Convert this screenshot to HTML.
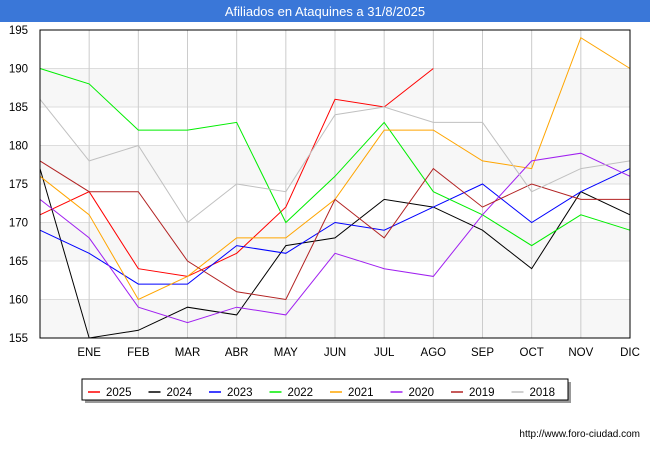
<!DOCTYPE html>
<html><head><meta charset="utf-8"><style>
body{margin:0;width:650px;height:450px;background:#fff;font-family:"Liberation Sans",sans-serif;overflow:hidden}
</style></head><body>
<svg width="650" height="450" xmlns="http://www.w3.org/2000/svg" id="chart">
<rect x="0" y="0" width="650" height="22" fill="#3a77d8"/>
<text x="325" y="16" text-anchor="middle" fill="#fff" font-size="13">Afiliados en Ataquines a 31/8/2025</text>
<g id="bands"></g><g id="grid"></g><g id="lines"></g>
<rect x="40" y="30" width="590" height="308" fill="none" stroke="#000" stroke-width="1"/>
<g id="yt"></g><g id="xt"></g>
<rect x="85" y="382" width="486" height="21" fill="#999"/>
<rect x="82" y="379" width="486" height="21" fill="#fff" stroke="#000"/>
<g id="legend"></g>
<text x="640" y="437" text-anchor="end" font-size="10" fill="#000">http://www.foro-ciudad.com</text>
</svg>
<script>
const months=["","ENE","FEB","MAR","ABR","MAY","JUN","JUL","AGO","SEP","OCT","NOV","DIC"];
const yTicks=[155,160,165,170,175,180,185,190,195];
const seriesNames=["2025","2024","2023","2022","2021","2020","2019","2018"];
const seriesColors=["#ff0000","#000000","#0000ff","#00ee00","#ffa500","#a020f0","#b22222","#c0c0c0"];
const s2025=[171,174,164,163,166,172,186,185,190];
const s2024=[177,155,156,159,158,167,168,173,172,169,164,174,171];
const s2023=[169,166,162,162,167,166,170,169,172,175,170,174,177];
const s2022=[190,188,182,182,183,170,176,183,174,171,167,171,169];
const s2021=[176,171,160,163,168,168,173,182,182,178,177,194,190];
const s2020=[173,168,159,157,159,158,166,164,163,171,178,179,176];
const s2019=[178,174,174,165,161,160,173,168,177,172,175,173,173];
const s2018=[186,178,180,170,175,174,184,185,183,183,174,177,178];
const allSeries=[s2025,s2024,s2023,s2022,s2021,s2020,s2019,s2018];
const NS="http://www.w3.org/2000/svg";
const X=i=>40+i*590/12, Y=v=>338-(v-155)*308/40;
function mk(t,a,p){const e=document.createElementNS(NS,t);for(const k in a)e.setAttribute(k,a[k]);document.getElementById(p).appendChild(e);return e;}
for(let v=155;v<195;v+=10){const r=mk("rect",{x:40,y:Y(v+5),width:590,height:Y(v)-Y(v+5),fill:"#f7f7f7"},"bands");

}
yTicks.forEach(v=>{const l=mk("line",{x1:40,x2:630,y1:Y(v),y2:Y(v),stroke:"#ddd"},"grid");


const t=mk("text",{x:28,y:Y(v)+4,"text-anchor":"end","font-size":"11.5",fill:"#000"},"yt");t.textContent=v;

});
months.forEach((m,i)=>{if(i>0){const l=mk("line",{x1:X(i),x2:X(i),y1:30,y2:338,stroke:"#ccc"},"grid");

}
if(m){const t=mk("text",{x:X(i),y:356,"text-anchor":"middle","font-size":"11.5",fill:"#000"},"xt");t.textContent=m;

}});
allSeries.forEach((s,k)=>{const p=mk("polyline",{points:s.map((v,i)=>X(i)+","+Y(v)).join(" "),fill:"none",stroke:seriesColors[k],"stroke-width":1},"lines");

});
seriesNames.forEach((n,k)=>{const x=88+k*60.5;
const l=mk("line",{x1:x,x2:x+12,y1:392,y2:392,stroke:seriesColors[k],"stroke-width":1.5},"legend");


const t=mk("text",{x:x+18,y:396,"font-size":"11.5",fill:"#000"},"legend");t.textContent=n;

});
</script>
</body></html>
